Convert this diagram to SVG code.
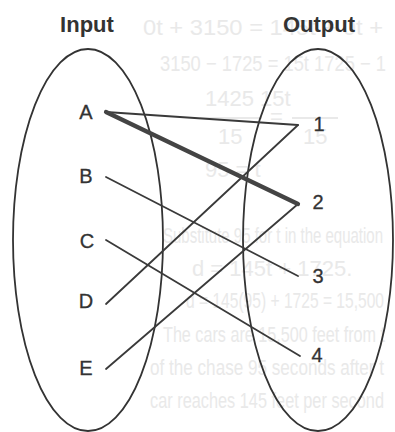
<svg xmlns="http://www.w3.org/2000/svg" width="395" height="432" viewBox="0 0 395 432">
<style>
.bg{font-family:"Liberation Sans",Arial,sans-serif;font-size:22px;fill:#e9e9e9}
.title{font-family:"Liberation Sans",Arial,sans-serif;font-size:22px;font-weight:bold;fill:#333;text-anchor:middle}
.lbl{font-family:"Liberation Sans",Arial,sans-serif;font-size:20px;fill:#333;text-anchor:middle;stroke:#333;stroke-width:0.3}
.set{fill:none;stroke:#333;stroke-width:1.8}
.c{stroke:#3a3a3a;stroke-width:1.8;fill:none;stroke-linecap:round}
.thick{stroke:#444;stroke-width:4.2;stroke-linecap:round}
</style>
<rect width="395" height="432" fill="#ffffff"/>
<g id="background-text">
<text class="bg" x="143" y="35" textLength="240" lengthAdjust="spacingAndGlyphs">0t + 3150 = 145t + 0t +</text>
<text class="bg" x="160" y="71" textLength="226" lengthAdjust="spacingAndGlyphs">3150 − 1725 = 15t  1725 − 1</text>
<text class="bg" x="205" y="106">1425   15t</text>
<line x1="200" y1="118" x2="262" y2="118" stroke="#e9e9e9" stroke-width="2"/>
<text class="bg" x="270" y="124">=</text>
<line x1="292" y1="118" x2="338" y2="118" stroke="#e9e9e9" stroke-width="2"/>
<text class="bg" x="218" y="144">15</text>
<text class="bg" x="303" y="144">15</text>
<text class="bg" x="205" y="177">95 = t</text>
<text class="bg" x="163" y="243" textLength="220" lengthAdjust="spacingAndGlyphs">Substitute 95 for t in the equation</text>
<text class="bg" x="192" y="276">d = 145t + 1725.</text>
<text class="bg" x="186" y="308" textLength="198" lengthAdjust="spacingAndGlyphs">d = 145(95) + 1725 = 15,500</text>
<text class="bg" x="163" y="342" textLength="222" lengthAdjust="spacingAndGlyphs">The cars are 15,500 feet from t</text>
<text class="bg" x="150" y="375" textLength="234" lengthAdjust="spacingAndGlyphs">of the chase 95 seconds after t</text>
<text class="bg" x="150" y="408" textLength="234" lengthAdjust="spacingAndGlyphs">car reaches 145 feet per second</text>
</g>
<g id="input-set">
<ellipse class="set" cx="88" cy="240" rx="75" ry="191"/>
<text class="title" x="87" y="32">Input</text>
</g>
<g id="output-set">
<ellipse class="set" cx="318" cy="240" rx="75" ry="191"/>
<text class="title" x="319" y="32">Output</text>
</g>
<g id="connectors">
<line class="c" x1="106" y1="112" x2="298" y2="125"/>
<line class="c" x1="298" y1="125" x2="106" y2="304"/>
<line class="c" x1="106" y1="177" x2="298" y2="276"/>
<line class="c" x1="106" y1="240" x2="300" y2="356"/>
<line class="c" x1="106" y1="369" x2="298" y2="204"/>
<line class="thick" x1="106" y1="112" x2="298" y2="204"/>
</g>
<g id="node-A"><text class="lbl" x="86" y="119">A</text></g>
<g id="node-B"><text class="lbl" x="86" y="183">B</text></g>
<g id="node-C"><text class="lbl" x="87" y="248">C</text></g>
<g id="node-D"><text class="lbl" x="86" y="308">D</text></g>
<g id="node-E"><text class="lbl" x="86" y="375">E</text></g>
<g id="node-1"><text class="lbl" x="319" y="131">1</text></g>
<g id="node-2"><text class="lbl" x="318" y="209">2</text></g>
<g id="node-3"><text class="lbl" x="318" y="283">3</text></g>
<g id="node-4"><text class="lbl" x="317" y="362">4</text></g>
</svg>
